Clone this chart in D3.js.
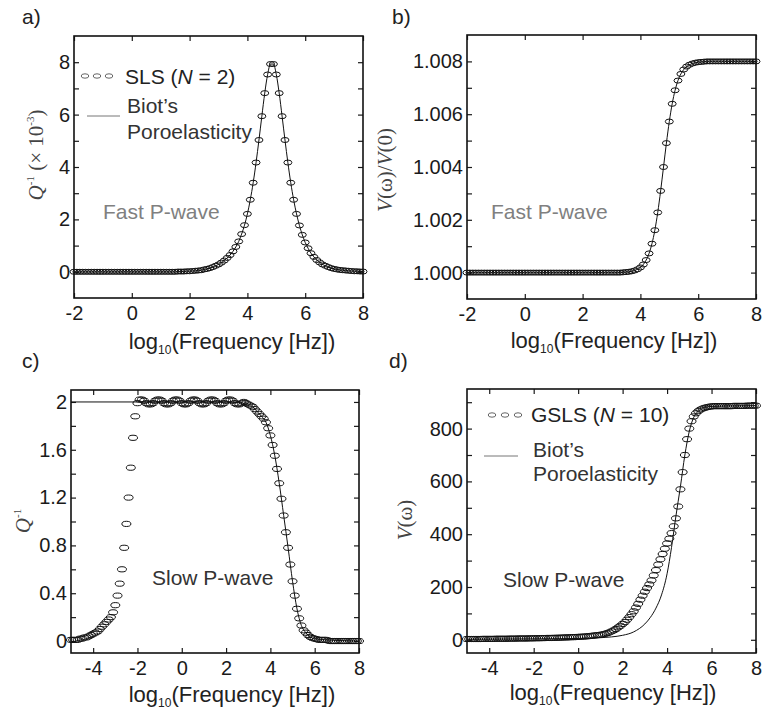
<!DOCTYPE html>
<html><head><meta charset="utf-8">
<script src="https://cdn.jsdelivr.net/npm/d3@7"></script>
<style>body{margin:0;background:#fff}svg{display:block}</style>
</head><body>
<script>
// ---------- DATA ----------
const freqAB = [-2,-1.9,-1.8,-1.7,-1.6,-1.5,-1.4,-1.3,-1.2,-1.1,-1,-0.9,-0.8,-0.7,-0.6,-0.5,-0.4,-0.3,-0.2,-0.1,0,0.1,0.2,0.3,0.4,0.5,0.6,0.7,0.8,0.9,1,1.1,1.2,1.3,1.4,1.5,1.6,1.7,1.8,1.9,2,2.1,2.2,2.3,2.4,2.5,2.6,2.7,2.8,2.9,3,3.1,3.2,3.3,3.4,3.5,3.6,3.7,3.8,3.9,4,4.1,4.2,4.3,4.4,4.5,4.6,4.7,4.8,4.9,5,5.1,5.2,5.3,5.4,5.5,5.6,5.7,5.8,5.9,6,6.1,6.2,6.3,6.4,6.5,6.6,6.7,6.8,6.9,7,7.1,7.2,7.3,7.4,7.5,7.6,7.7,7.8,7.9,8];
const freqCD = [-5,-4.9,-4.8,-4.7,-4.6,-4.5,-4.4,-4.3,-4.2,-4.1,-4,-3.9,-3.8,-3.7,-3.6,-3.5,-3.4,-3.3,-3.2,-3.1,-3,-2.9,-2.8,-2.7,-2.6,-2.5,-2.4,-2.3,-2.2,-2.1,-2,-1.9,-1.8,-1.7,-1.6,-1.5,-1.4,-1.3,-1.2,-1.1,-1,-0.9,-0.8,-0.7,-0.6,-0.5,-0.4,-0.3,-0.2,-0.1,0,0.1,0.2,0.3,0.4,0.5,0.6,0.7,0.8,0.9,1,1.1,1.2,1.3,1.4,1.5,1.6,1.7,1.8,1.9,2,2.1,2.2,2.3,2.4,2.5,2.6,2.7,2.8,2.9,3,3.1,3.2,3.3,3.4,3.5,3.6,3.7,3.8,3.9,4,4.1,4.2,4.3,4.4,4.5,4.6,4.7,4.8,4.9,5,5.1,5.2,5.3,5.4,5.5,5.6,5.7,5.8,5.9,6,6.1,6.2,6.3,6.4,6.5,6.6,6.7,6.8,6.9,7,7.1,7.2,7.3,7.4,7.5,7.6,7.7,7.8,7.9,8];

// a) Fast P-wave, Q^-1 (x10^-3), SLS N=2 (Biot line coincides)
const slsQ = [0,0,0,0,0,0,0,0,0,0,0,0,0,0,0,0,0,0,0,0,0,0,0,0,0,0,0,0,0,0,0,0,0,0,0,0,
  0.01,0.01,0.01,0.02,0.02,0.03,0.04,0.05,0.06,
  0.09,0.11,0.14,0.18,0.23,0.28,0.35,0.43,0.53,0.64,0.78,0.95,1.16,1.44,1.78,
  2.21,2.75,3.40,4.17,5.03,5.94,6.82,7.53,7.93,7.93,7.53,
  6.82,5.94,5.03,4.17,3.40,2.75,2.21,1.77,1.41,1.12,
  0.90,0.71,0.57,0.45,0.36,0.28,0.23,0.18,0.14,0.11,
  0.09,0.07,0.06,0.05,0.04,0.03,0.02,0.02,0.01,0.01];
const biotQfast = slsQ;

// b) Fast P-wave, V(w)/V(0)
const slsV = [1,1,1,1,1,1,1,1,1,1,1,1,1,1,1,1,1,1,1,1,1,1,1,1,1,1,1,1,1,1,1,1,1,1,1,1,1,1,1,1,1,1,1,1,1,1,1,1,1,1,1,1,1,1,
  1.00001,1.00002,1.00003,1.00005,1.00008,1.000125,1.000196,1.000306,1.000475,1.000727,1.001094,1.001606,1.002278,1.003095,1.004,1.004905,1.005722,1.006394,1.006906,1.007273,1.007525,1.007694,1.007804,1.007875,1.00792,1.00795,1.00797,1.00798,1.00799,
  1.008,1.008,1.008,1.008,1.008,1.008,1.008,1.008,1.008,1.008,1.008,1.008,1.008,1.008,1.008,1.008,1.008,1.008];
const biotVfast = slsV;

// c) Slow P-wave, Q^-1, GSLS N=10
const gslsQ = [0.01,0.01,0.01,0.01,0.02,0.02,0.03,0.03,0.04,0.05,0.06,0.07,0.08,0.10,0.12,0.14,0.16,0.18,0.20,0.24,0.30,0.38,0.48,0.60,0.78,0.98,1.20,1.45,1.70,1.88,1.99,
  2.02,2.02,2.01,1.99,1.98,1.98,1.99,2.01,2.02,2.02,2.01,1.99,1.98,1.98,1.99,2.01,2.02,2.02,2.01,1.99,1.98,1.98,1.99,2.01,2.02,2.02,2.01,1.99,1.98,1.98,1.99,2.01,2.02,2.02,2.01,1.99,1.98,1.98,1.99,2.01,2.02,2.02,2.01,1.99,1.98,1.98,1.99,2.00,1.99,1.98,
  1.97,1.96,1.94,1.92,1.90,1.88,1.86,1.83,1.78,1.72,1.64,1.55,1.44,1.32,1.19,1.05,0.91,0.78,0.64,0.50,0.38,0.27,0.19,0.13,0.09,0.07,0.05,0.035,0.025,0.02,0.015,0.01,0.01,0.01,0.01,0.005,
  0,0,0,0,0,0,0,0,0,0,0,0,0,0];
const biotQslowF = [-5,-2,0,2,3,3.2,3.4,3.6,3.8,4,4.2,4.4,4.6,4.8,5,5.2,5.4,5.6,5.8,6,6.5,7,8];
const biotQslow  = [2,2,2,2,1.98,1.96,1.92,1.88,1.83,1.72,1.55,1.32,1.05,0.78,0.50,0.27,0.13,0.07,0.035,0.02,0.01,0.005,0];

// d) Slow P-wave, V(w)
const gslsV = [3,3,3,3,3,3,3,3.5,3.5,3.5,3.5,3.5,3.5,4,4,4,4,4,4,4.5,4.5,4.5,4.5,5,5,5,5,5,5.5,5.5,5.5,6,6,6,6.5,6.5,7,7,7,7.5,7.5,8,8,8.5,9,9,9.5,10,10,10.5,11,
  11.5,12,12.5,13.2,14,15,16,17,18,19,
  20.5,22.5,25,28,32,36,41,47,53,60,
  67,76,86,97,108,122,136,152,167,182,
  196,210,225,244,264,285,305,325,345,365,
  383,404,430,460,505,570,635,700,760,800,
  828,846,858,866,872,876,879,881,883,884,
  885,885,885,885,885,885,885,885,885,886,886,886,886,886,886,887,887,887,887,887];
const biotVslowF = [-5,-3,-1,0,0.5,1,1.5,2,2.5,3,3.25,3.5,3.75,4,4.2,4.4,4.6,4.8,5,5.2,5.4,5.6,5.8,6,7,8];
const biotVslow  = [2,3,4,5,6,8,11,17,30,60,85,120,170,250,350,470,580,700,790,843,866,877,882,884,886,887];

// ticks
const xTicksAB = [-2,0,2,4,6,8];
const xTicksCD = [-4,-2,0,2,4,6,8];
const yTicksA = [0,1,2,3,4,5,6,7,8],            yLabelsA = [0,2,4,6,8];
const yTicksB = [1.000,1.001,1.002,1.003,1.004,1.005,1.006,1.007,1.008], yLabelsB = [1.000,1.002,1.004,1.006,1.008];
const yTicksC = [0,0.2,0.4,0.6,0.8,1.0,1.2,1.4,1.6,1.8,2.0], yLabelsC = [0,0.4,0.8,1.2,1.6,2];
const yTicksD = [0,100,200,300,400,500,600,700,800,900], yLabelsD = [0,200,400,600,800];

// ---------- DRAW ----------
const SANS = "'Liberation Sans', Arial, Helvetica, sans-serif";
const SERIF = "'Liberation Serif', 'Times New Roman', serif";
const svg = d3.select('body').append('svg').attr('width',762).attr('height',713);

const panels = [
  {lab:'a)', lp:[22,24], box:[74,363,36,298], xd:[-2,8], yd:[-1,9], xt:xTicksAB, yt:yTicksA, yl:yLabelsA, yf:d=>String(d),
   mf:freqAB, mv:slsQ, lf:freqAB, lv:biotQfast, rx:4, ry:2.5, titleX:232, titleY:349,
   ytitle:{x:43,y:155,parts:[['Q','i',0],['-1','s',0],[' (× 10','n',0],['-3','s',0],[')','n',0]]},
   note:{t:'Fast P-wave', x:103, y:219, c:'#808080'},
   legend:{mx:[85,97,109], my:76, tx:125, ty:84, ln:[87,120,116], b1:[127,113], b2:[127,139], name:['SLS (','N',' = 2)']}},
  {lab:'b)', lp:[392,24], box:[467,756,35,299], xd:[-2,8], yd:[0.999,1.009], xt:xTicksAB, yt:yTicksB, yl:yLabelsB, yf:d3.format('.3f'),
   mf:freqAB, mv:slsV, lf:freqAB, lv:biotVfast, rx:4, ry:2.5, titleX:614, titleY:348,
   ytitle:{x:392,y:170,parts:[['V','i',0],['(ω)/','n',0],['V','i',0],['(0)','n',0]]},
   note:{t:'Fast P-wave', x:491, y:219, c:'#808080'}},
  {lab:'c)', lp:[22,368], box:[71,359,390,653], xd:[-5,8], yd:[-0.1,2.1], xt:xTicksCD, yt:yTicksC, yl:yLabelsC, yf:d=>String(d),
   mf:freqCD, mv:gslsQ, lf:biotQslowF, lv:biotQslow, rx:4.5, ry:2.6, titleX:232, titleY:702,
   ytitle:{x:30,y:521,parts:[['Q','i',0],['-1','s',0]]},
   note:{t:'Slow P-wave', x:152, y:585, c:'#333'}},
  {lab:'d)', lp:[389,368], box:[467,756,389,653], xd:[-5,8], yd:[-50,950], xt:xTicksCD, yt:yTicksD, yl:yLabelsD, yf:d=>String(d),
   mf:freqCD, mv:gslsV, lf:biotVslowF, lv:biotVslow, rx:4.5, ry:2.6, titleX:613, titleY:700,
   ytitle:{x:412,y:520,parts:[['V','i',0],['(ω)','n',0]]},
   note:{t:'Slow P-wave', x:503, y:587, c:'#333'},
   legend:{mx:[492,505,518], my:415, tx:531, ty:422, ln:[484,518,456], b1:[533,457], b2:[533,481], name:['GSLS (','N',' = 10)']}}
];

const near = (arr,v) => arr.some(a => Math.abs(a-v) < 1e-9);

panels.forEach(p => {
  const [L,R,T,B] = p.box;
  const x = d3.scaleLinear().domain(p.xd).range([L,R]);
  const y = d3.scaleLinear().domain(p.yd).range([B,T]);

  svg.append('text').attr('x',p.lp[0]).attr('y',p.lp[1]).attr('font-family',SANS).attr('font-size',21).attr('fill','#222').text(p.lab);

  const style = g => { g.select('.domain').remove(); g.attr('font-family',SANS).attr('font-size',20).attr('color','#1a1a1a'); g.selectAll('line').attr('stroke-width',1.2); };
  svg.append('g').attr('transform',`translate(0,${B})`)
    .call(d3.axisBottom(x).tickValues(p.xt).tickSizeInner(-5).tickSizeOuter(0).tickPadding(8).tickFormat(d=>String(d))).call(style);
  svg.append('g').attr('transform',`translate(0,${T})`)
    .call(d3.axisTop(x).tickValues(p.xt).tickSizeInner(-5).tickSizeOuter(0).tickFormat('')).call(style);
  svg.append('g').attr('transform',`translate(${L},0)`)
    .call(d3.axisLeft(y).tickValues(p.yt).tickSizeInner(-5).tickSizeOuter(0).tickPadding(4).tickFormat(d => near(p.yl,d) ? p.yf(d) : '')).call(style);
  svg.append('g').attr('transform',`translate(${R},0)`)
    .call(d3.axisRight(y).tickValues(p.yt).tickSizeInner(-5).tickSizeOuter(0).tickFormat('')).call(style);

  svg.append('rect').attr('x',L).attr('y',T).attr('width',R-L).attr('height',B-T)
    .attr('fill','none').attr('stroke','#111').attr('stroke-width',1.6);

  const xt = svg.append('text').attr('x',p.titleX).attr('y',p.titleY).attr('text-anchor','middle')
    .attr('font-family',SANS).attr('font-size',22).attr('fill','#222');
  xt.append('tspan').text('log');
  xt.append('tspan').attr('font-size',12).attr('dy',5).text('10');
  xt.append('tspan').attr('dy',-5).text('(Frequency [Hz])');

  const yt = svg.append('text').attr('transform',`translate(${p.ytitle.x},${p.ytitle.y}) rotate(-90)`)
    .attr('text-anchor','middle').attr('font-family',SERIF).attr('font-size',21).attr('fill','#444');
  let shift = 0;
  p.ytitle.parts.forEach(([t,kind]) => {
    const s = yt.append('tspan').text(t);
    if (kind==='i') s.attr('font-style','italic');
    if (kind==='s') { s.attr('font-size',11).attr('dy',-9 - shift); shift = -9; }
    else { if (shift!==0) { s.attr('dy',-shift); shift = 0; } }
  });

  svg.append('text').attr('x',p.note.x).attr('y',p.note.y).attr('font-family',SANS).attr('font-size',21)
    .attr('fill',p.note.c).text(p.note.t);

  const line = d3.line().x(d=>x(d[0])).y(d=>y(d[1])).curve(d3.curveMonotoneX);
  svg.append('path').datum(p.lf.map((f,i)=>[f,p.lv[i]])).attr('d',line)
    .attr('fill','none').attr('stroke','#111').attr('stroke-width',1);

  svg.append('g').selectAll('ellipse').data(p.mf.map((f,i)=>[f,p.mv[i]])).join('ellipse')
    .attr('cx',d=>x(d[0])).attr('cy',d=>y(d[1])).attr('rx',p.rx).attr('ry',p.ry)
    .attr('fill','none').attr('stroke','#111').attr('stroke-width',1);

  if (p.legend) {
    const lg = p.legend;
    svg.append('g').selectAll('ellipse').data(lg.mx).join('ellipse')
      .attr('cx',d=>d).attr('cy',lg.my).attr('rx',3.8).attr('ry',2.2)
      .attr('fill','none').attr('stroke','#555').attr('stroke-width',0.9);
    const tt = svg.append('text').attr('x',lg.tx).attr('y',lg.ty).attr('font-family',SANS).attr('font-size',21).attr('fill','#222');
    tt.append('tspan').text(lg.name[0]);
    tt.append('tspan').attr('font-style','italic').text(lg.name[1]);
    tt.append('tspan').text(lg.name[2]);
    svg.append('line').attr('x1',lg.ln[0]).attr('x2',lg.ln[1]).attr('y1',lg.ln[2]).attr('y2',lg.ln[2])
      .attr('stroke','#777').attr('stroke-width',1);
    svg.append('text').attr('x',lg.b1[0]).attr('y',lg.b1[1]).attr('font-family',SANS).attr('font-size',21).attr('fill','#333').text('Biot’s');
    svg.append('text').attr('x',lg.b2[0]).attr('y',lg.b2[1]).attr('font-family',SANS).attr('font-size',21).attr('fill','#333').text('Poroelasticity');
  }
});
</script>
</body></html>
